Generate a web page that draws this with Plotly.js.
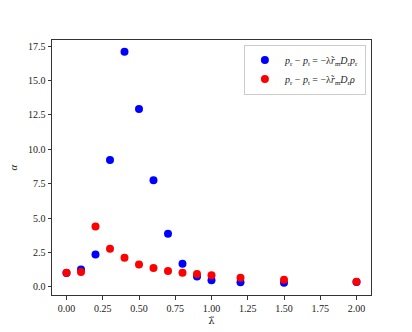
<!DOCTYPE html>
<html>
<head>
<meta charset="utf-8">
<script src="https://cdn.plot.ly/plotly-3.0.1.min.js"></script>
<style>
  body { margin: 0; }
  #plot { width: 412px; height: 332px; }
</style>
</head>
<body>
<div id="plot"></div>
<script>
// lambda tilde values
let lam = [0, 0.1, 0.2, 0.3, 0.4, 0.5, 0.6, 0.7, 0.8, 0.9, 1.0, 1.2, 1.5, 2.0];

// alpha for the two closures
let alphaPr = [1.0, 1.26, 2.35, 9.22, 17.09, 12.93, 7.75, 3.85, 1.67, 0.75, 0.48, 0.32, 0.3, 0.35];
let alphaRho = [1.02, 1.07, 4.38, 2.76, 2.11, 1.62, 1.36, 1.14, 1.02, 0.92, 0.83, 0.65, 0.51, 0.36];

let labelPr = "<i>p</i><sub>r</sub> − <i>p</i><sub>t</sub> = −λ̃<i>r</i><sub>m</sub><i>D</i><sub>r</sub><i>p</i><sub>r</sub>";
let labelRho = "<i>p</i><sub>r</sub> − <i>p</i><sub>t</sub> = −λ̃<i>r</i><sub>m</sub><i>D</i><sub>r</sub><i>ρ</i>";

let trace1 = {
  x: lam,
  y: alphaPr,
  name: labelPr,
  mode: "markers",
  type: "scatter",
  marker: {color: "#0000ff", size: 8}
};

let trace2 = {
  x: lam,
  y: alphaRho,
  name: labelRho,
  mode: "markers",
  type: "scatter",
  marker: {color: "#ff0000", size: 8}
};

let data = [trace1, trace2];

let axisStyle = {
  showline: true,
  mirror: true,
  linecolor: "#333",
  linewidth: 1,
  ticks: "outside",
  ticklen: 3.5,
  tickwidth: 1,
  tickcolor: "#333",
  showgrid: false,
  zeroline: false,
  tickfont: {family: "Liberation Serif, serif", size: 10, color: "#222"}
};

let layout = {
  width: 412,
  height: 332,
  paper_bgcolor: "white",
  plot_bgcolor: "white",
  showlegend: true,
  margin: {l: 52, r: 41, t: 40, b: 37},
  font: {family: "Liberation Serif, serif", color: "#222"},
  xaxis: Object.assign({}, axisStyle, {
    range: [-0.1, 2.1],
    tickvals: [0, 0.25, 0.5, 0.75, 1.0, 1.25, 1.5, 1.75, 2.0],
    tickformat: ".2f",
    title: {text: "λ̃", font: {family: "DejaVu Serif, serif", size: 10}, standoff: 4}
  }),
  yaxis: Object.assign({}, axisStyle, {
    range: [-0.6, 17.95],
    tickvals: [0, 2.5, 5, 7.5, 10, 12.5, 15, 17.5],
    tickformat: ".1f",
    title: {text: "<i>α</i>", font: {size: 11}, standoff: 8}
  }),
  legend: {
    x: 0.984,
    y: 0.982,
    xanchor: "right",
    yanchor: "top",
    bgcolor: "white",
    bordercolor: "#ccc",
    borderwidth: 1,
    font: {family: "Liberation Serif, serif", size: 10, color: "#222"},
    itemwidth: 30,
    tracegroupgap: 0
  }
};

Plotly.newPlot("plot", data, layout, {displayModeBar: false, staticPlot: true});
</script>
</body>
</html>
